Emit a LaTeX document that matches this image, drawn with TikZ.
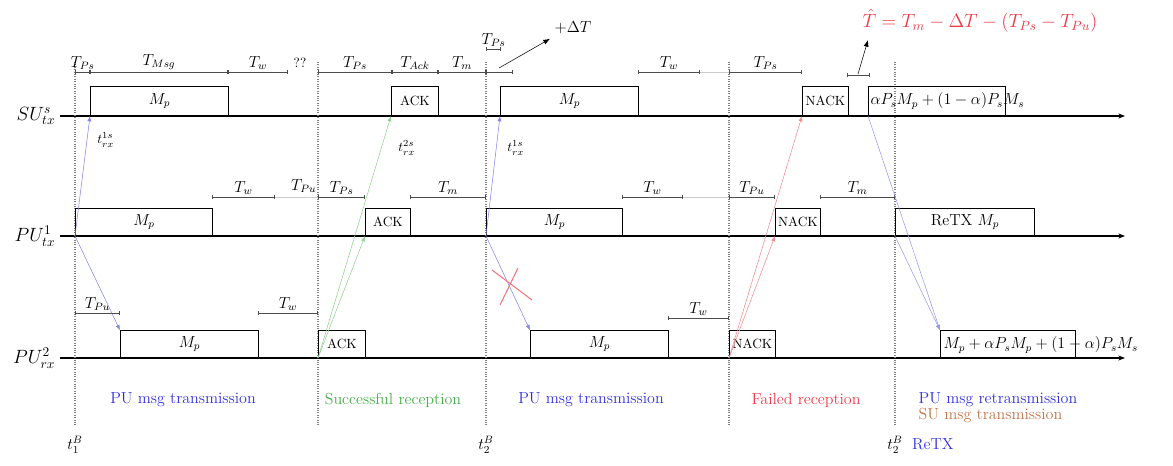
\documentclass[tikz,border=0pt]{standalone}
\usepackage{amsmath,amssymb}
\usetikzlibrary{arrows.meta,positioning}
\definecolor{sigblue}{RGB}{50,50,220}
\definecolor{siggreen}{RGB}{70,175,70}
\definecolor{sigred}{RGB}{235,60,70}
\definecolor{sigbrown}{RGB}{195,115,70}

\begin{document}
\begin{tikzpicture}[x=0.75pt, y=-0.75pt,
  msgbox/.style={draw, thick, inner sep=0pt, anchor=south west, minimum height=20pt, font=\large},
  ackbox/.style={msgbox, font=\normalsize},
  boxw/.style={minimum width=#1*0.75pt},
  axis/.style={thick, -{Stealth[length=5pt]}},
  marker/.style={gray, densely dotted, thick},
  dim/.style={gray!60!black, {Bar[width=3pt]}-{Bar[width=3pt]}},
  gap/.style={gray!40},
  dimlbl/.style={above, inner sep=1.5pt, text=black, font=\large},
  sig/.style={line width=0.4pt, -{Latex[length=4pt]}},
  rowlbl/.style={left, font=\Large},
  phase/.style={font=\large}
]
  \useasboundingbox (0,0) rectangle (1173,465);

  % time axes
  \coordinate (sus) at (60,116);  \coordinate (sue) at (1125,116);
  \coordinate (pts) at (60,236);  \coordinate (pte) at (1125,236);
  \coordinate (prs) at (60,358);  \coordinate (pre) at (1125,358);
  \draw[axis] (sus) -- (sue);
  \draw[axis] (pts) -- (pte);
  \draw[axis] (prs) -- (pre);
  \node[rowlbl] (sulbl) at (sus) {$SU^{s}_{tx}$};
  \node[rowlbl] (ptlbl) at (pts) {$PU^{1}_{tx}$};
  \node[rowlbl] (prlbl) at (prs) {$PU^{2}_{rx}$};

  % phase markers
  \foreach \x/\nm in {75/ma,318/mb,486/mc,729/md,895/me}
    \draw[marker] (\x,62) -- (\x,426) coordinate (\nm);
  \node[below=4pt of ma, font=\large] (ta) {$t^{B}_{1}$};
  \node[below=4pt of mc, font=\large] (tb) {$t^{B}_{2}$};
  \node[below=4pt of me, font=\large] (tc) {$t^{B}_{2}$};
  \node[right=0pt of tc, text=sigblue, phase] (tcx) {ReTX};

  % SU transmitter
  \node[msgbox, boxw=138, minimum height=22pt] (sumpa) at (90,116) {$M_p$};
  \node[ackbox, boxw=47, minimum height=22pt] (suack) at (391,116) {ACK};
  \node[msgbox, boxw=138, minimum height=22pt] (sumpb) at (500,116) {$M_p$};
  \node[ackbox, boxw=46, minimum height=22pt] (sunack) at (802,116) {NACK};
  \node[msgbox, boxw=137, minimum height=22pt] (sumix) at (868,116) {};
  \node[anchor=west, inner sep=1pt, font=\large] (sumixt) at (869,101) {$\alpha P_s M_p + (1-\alpha)P_s M_s$};

  \draw[dim] (75,72) -- node[dimlbl]{$T_{Ps}$} (90,72);
  \draw[dim] (90,72) -- node[dimlbl]{$T_{Msg}$} (228,72);
  \draw[dim] (228,72) -- node[dimlbl]{$T_w$} (288,72);
  \node[inner sep=1pt] (qq) at (300,63) {$??$};
  \draw[dim] (318,72) -- node[dimlbl]{$T_{Ps}$} (392,72);
  \draw[dim] (392,72) -- node[dimlbl]{$T_{Ack}$} (438,72);
  \draw[dim] (438,72) -- node[dimlbl]{$T_m$} (486,72);
  \draw[dim] (486,72) -- (513,72);
  \draw[dim] (486,49) -- node[dimlbl]{$T_{Ps}$} (501,49);
  \draw[dim] (638,72) -- node[dimlbl]{$T_w$} (700,72);
  \draw[gap] (700,72) -- (729,72);
  \draw[dim] (729,72) -- node[dimlbl]{$T_{Ps}$} (802,72);
  \draw[dim] (847,75) -- (870,75);
  \node[anchor=west, font=\large] (dt) at (550,28) {$+\Delta T$};
  \node[anchor=south west, text=sigred, font=\Large] (that) at (858,37) {$\hat{T} = T_m - \Delta T - (T_{Ps} - T_{Pu})$};
  \draw[-{Latex[length=5pt]}] (499,68) -- (dt.south west);
  \draw[-{Latex[length=5pt]}] (858,74) -- (868,40);

  % PU transmitter
  \node[msgbox, boxw=137] (pumpa) at (75,236) {$M_p$};
  \node[ackbox, boxw=45] (puack) at (365,236) {ACK};
  \node[msgbox, boxw=136] (pumpb) at (486,236) {$M_p$};
  \node[ackbox, boxw=45] (punack) at (775,236) {NACK};
  \node[msgbox, boxw=139] (puretx) at (895,236) {ReTX $M_p$};

  \draw[dim] (212,197) -- node[dimlbl]{$T_w$} (275,197);
  \draw[gap] (275,197) -- (318,197);
  \node[above left=2pt and 0pt of {(318,197)}, inner sep=1pt, font=\large] (tpu) {$T_{Pu}$};
  \draw[dim] (318,197) -- node[dimlbl]{$T_{Ps}$} (365,197);
  \draw[dim] (410,197) -- node[dimlbl]{$T_m$} (486,197);
  \draw[dim] (622,197) -- node[dimlbl]{$T_w$} (683,197);
  \draw[gap] (683,197) -- (729,197);
  \draw[dim] (729,197) -- node[dimlbl]{$T_{Pu}$} (775,197);
  \draw[dim] (820,197) -- node[dimlbl]{$T_m$} (895,197);

  % PU receiver
  \node[msgbox, boxw=138] (rxmpa) at (120,358) {$M_p$};
  \node[ackbox, boxw=47] (rxack) at (318,358) {ACK};
  \node[msgbox, boxw=138] (rxmpb) at (530,358) {$M_p$};
  \node[ackbox, boxw=46] (rxnack) at (729,358) {NACK};
  \node[msgbox, boxw=135] (rxmix) at (940,358) {};
  \node[anchor=west, inner sep=1pt, font=\large] (rxmixt) at (942,345) {$M_p + \alpha P_s M_p + (1-\alpha)P_s M_s$};

  \draw[dim] (75,313) -- node[dimlbl]{$T_{Pu}$} (120,313);
  \draw[dim] (258,313) -- node[dimlbl]{$T_w$} (318,313);
  \draw[dim] (668,318) -- node[dimlbl]{$T_w$} (729,318);

  % signals
  \draw[sig, sigblue!60] (pumpa.south west) -- (sumpa.south west);
  \draw[sig, sigblue!60] (pumpa.south west) -- (rxmpa.north west);
  \node[right=2pt of sumpa.south west, yshift=-18pt] (rxa) {$t^{1s}_{rx}$};
  \draw[sig, siggreen!60] (rxack.south west) -- (suack.south west);
  \draw[sig, siggreen!60] (rxack.south west) -- (puack.south west);
  \node[right=2pt of suack.south west, yshift=-24pt] (rxb) {$t^{2s}_{rx}$};
  \draw[sig, sigblue!60] (pumpb.south west) -- (sumpb.south west);
  \draw[sig, sigblue!60] (pumpb.south west) -- (rxmpb.north west);
  \node[right=2pt of sumpb.south west, yshift=-24pt] (rxc) {$t^{1s}_{rx}$};
  \draw[sig, sigred!60] (rxnack.south west) -- (sunack.south west);
  \draw[sig, sigred!60] (rxnack.south west) -- (punack.south west);
  \draw[sig, sigblue!50] (sumix.south west) -- (rxmix.north west);
  \draw[sig, sigblue!50] (puretx.south west) -- (rxmix.north west);
  \draw[sigred!70, thick] (492,270) -- (532,300);
  \draw[sigred!70, thick] (500,305) -- (518,268);

  % phases
  \node[phase, text=sigblue] (pha) at (183,400) {PU msg transmission};
  \node[phase, text=siggreen] (phb) at (393,400) {Successful reception};
  \node[phase, text=sigblue] (phc) at (591,400) {PU msg transmission};
  \node[phase, text=sigred] (phd) at (806,400) {Failed reception};
  \node[phase, anchor=west, text=sigblue] (phe) at (914,400) {PU msg retransmission};
  \node[phase, anchor=west, text=sigbrown] (phf) at (914,415) {SU msg transmission};
\end{tikzpicture}
\end{document}
